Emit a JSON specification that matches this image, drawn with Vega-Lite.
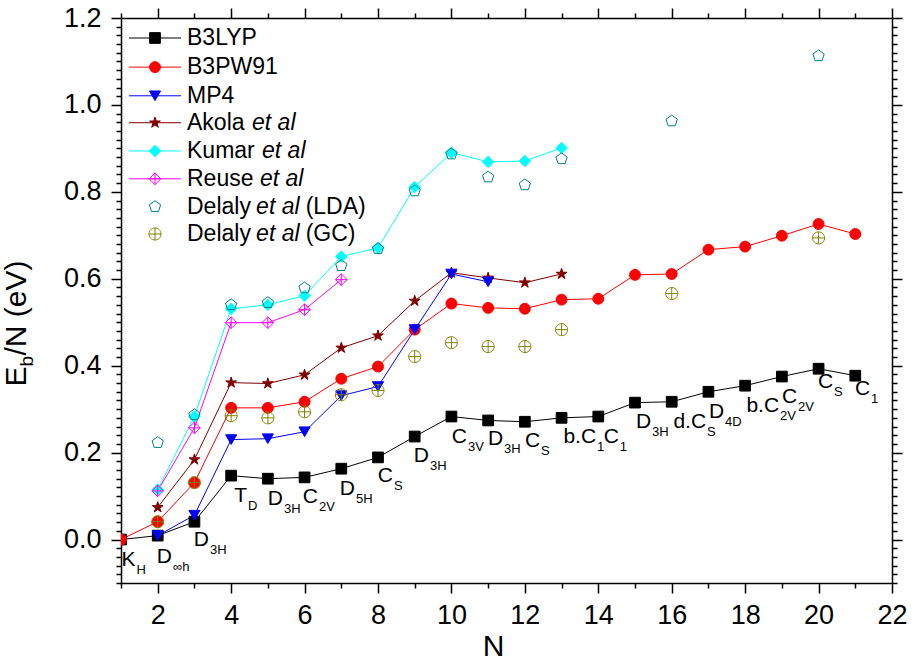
{
  "$schema": "https://vega.github.io/schema/vega-lite/v6.json",
  "autosize": "none",
  "width": 771,
  "height": 565,
  "padding": {"left": 121, "top": 18, "right": 21, "bottom": 77},
  "background": "white",
  "config": {"view": {"stroke": null}, "font": "Liberation Sans"},
  "datasets": {
    "pts": [
      {"series": "B3LYP", "N": 1, "E": 0},
      {"series": "B3LYP", "N": 2, "E": 0.009},
      {"series": "B3LYP", "N": 3, "E": 0.041},
      {"series": "B3LYP", "N": 4, "E": 0.147},
      {"series": "B3LYP", "N": 5, "E": 0.140},
      {"series": "B3LYP", "N": 6, "E": 0.143},
      {"series": "B3LYP", "N": 7, "E": 0.163},
      {"series": "B3LYP", "N": 8, "E": 0.189},
      {"series": "B3LYP", "N": 9, "E": 0.237},
      {"series": "B3LYP", "N": 10, "E": 0.283},
      {"series": "B3LYP", "N": 11, "E": 0.274},
      {"series": "B3LYP", "N": 12, "E": 0.271},
      {"series": "B3LYP", "N": 13, "E": 0.280},
      {"series": "B3LYP", "N": 14, "E": 0.283},
      {"series": "B3LYP", "N": 15, "E": 0.315},
      {"series": "B3LYP", "N": 16, "E": 0.317},
      {"series": "B3LYP", "N": 17, "E": 0.340},
      {"series": "B3LYP", "N": 18, "E": 0.354},
      {"series": "B3LYP", "N": 19, "E": 0.375},
      {"series": "B3LYP", "N": 20, "E": 0.393},
      {"series": "B3LYP", "N": 21, "E": 0.377},
      {"series": "B3PW91", "N": 1, "E": 0},
      {"series": "B3PW91", "N": 2, "E": 0.041},
      {"series": "B3PW91", "N": 3, "E": 0.131},
      {"series": "B3PW91", "N": 4, "E": 0.303},
      {"series": "B3PW91", "N": 5, "E": 0.303},
      {"series": "B3PW91", "N": 6, "E": 0.317},
      {"series": "B3PW91", "N": 7, "E": 0.370},
      {"series": "B3PW91", "N": 8, "E": 0.398},
      {"series": "B3PW91", "N": 9, "E": 0.483},
      {"series": "B3PW91", "N": 10, "E": 0.543},
      {"series": "B3PW91", "N": 11, "E": 0.533},
      {"series": "B3PW91", "N": 12, "E": 0.531},
      {"series": "B3PW91", "N": 13, "E": 0.552},
      {"series": "B3PW91", "N": 14, "E": 0.554},
      {"series": "B3PW91", "N": 15, "E": 0.609},
      {"series": "B3PW91", "N": 16, "E": 0.611},
      {"series": "B3PW91", "N": 17, "E": 0.667},
      {"series": "B3PW91", "N": 18, "E": 0.674},
      {"series": "B3PW91", "N": 19, "E": 0.699},
      {"series": "B3PW91", "N": 20, "E": 0.726},
      {"series": "B3PW91", "N": 21, "E": 0.703},
      {"series": "Akola", "N": 2, "E": 0.074},
      {"series": "Akola", "N": 3, "E": 0.184},
      {"series": "Akola", "N": 4, "E": 0.361},
      {"series": "Akola", "N": 5, "E": 0.359},
      {"series": "Akola", "N": 6, "E": 0.379},
      {"series": "Akola", "N": 7, "E": 0.441},
      {"series": "Akola", "N": 8, "E": 0.469},
      {"series": "Akola", "N": 9, "E": 0.549},
      {"series": "Akola", "N": 10, "E": 0.614},
      {"series": "Akola", "N": 11, "E": 0.602},
      {"series": "Akola", "N": 12, "E": 0.591},
      {"series": "Akola", "N": 13, "E": 0.611},
      {"series": "MP4", "N": 2, "E": 0.009},
      {"series": "MP4", "N": 3, "E": 0.056},
      {"series": "MP4", "N": 4, "E": 0.230},
      {"series": "MP4", "N": 5, "E": 0.232},
      {"series": "MP4", "N": 6, "E": 0.248},
      {"series": "MP4", "N": 7, "E": 0.331},
      {"series": "MP4", "N": 8, "E": 0.352},
      {"series": "MP4", "N": 9, "E": 0.483},
      {"series": "MP4", "N": 10, "E": 0.611},
      {"series": "MP4", "N": 11, "E": 0.593},
      {"series": "Kumar", "N": 2, "E": 0.115},
      {"series": "Kumar", "N": 3, "E": 0.283},
      {"series": "Kumar", "N": 4, "E": 0.531},
      {"series": "Kumar", "N": 5, "E": 0.540},
      {"series": "Kumar", "N": 6, "E": 0.561},
      {"series": "Kumar", "N": 7, "E": 0.651},
      {"series": "Kumar", "N": 8, "E": 0.671},
      {"series": "Kumar", "N": 9, "E": 0.811},
      {"series": "Kumar", "N": 10, "E": 0.890},
      {"series": "Kumar", "N": 11, "E": 0.869},
      {"series": "Kumar", "N": 12, "E": 0.871},
      {"series": "Kumar", "N": 13, "E": 0.901},
      {"series": "Reuse", "N": 2, "E": 0.112},
      {"series": "Reuse", "N": 3, "E": 0.257},
      {"series": "Reuse", "N": 4, "E": 0.499},
      {"series": "Reuse", "N": 5, "E": 0.499},
      {"series": "Reuse", "N": 6, "E": 0.529},
      {"series": "Reuse", "N": 7, "E": 0.598},
      {"series": "Delaly LDA", "N": 2, "E": 0.223},
      {"series": "Delaly LDA", "N": 3, "E": 0.287},
      {"series": "Delaly LDA", "N": 4, "E": 0.540},
      {"series": "Delaly LDA", "N": 5, "E": 0.545},
      {"series": "Delaly LDA", "N": 6, "E": 0.579},
      {"series": "Delaly LDA", "N": 7, "E": 0.630},
      {"series": "Delaly LDA", "N": 8, "E": 0.669},
      {"series": "Delaly LDA", "N": 9, "E": 0.802},
      {"series": "Delaly LDA", "N": 10, "E": 0.887},
      {"series": "Delaly LDA", "N": 11, "E": 0.834},
      {"series": "Delaly LDA", "N": 12, "E": 0.816},
      {"series": "Delaly LDA", "N": 13, "E": 0.876},
      {"series": "Delaly LDA", "N": 16, "E": 0.963},
      {"series": "Delaly LDA", "N": 20, "E": 1.113},
      {"series": "Delaly GC", "N": 2, "E": 0.041},
      {"series": "Delaly GC", "N": 3, "E": 0.131},
      {"series": "Delaly GC", "N": 4, "E": 0.285},
      {"series": "Delaly GC", "N": 5, "E": 0.280},
      {"series": "Delaly GC", "N": 6, "E": 0.294},
      {"series": "Delaly GC", "N": 7, "E": 0.333},
      {"series": "Delaly GC", "N": 8, "E": 0.343},
      {"series": "Delaly GC", "N": 9, "E": 0.421},
      {"series": "Delaly GC", "N": 10, "E": 0.453},
      {"series": "Delaly GC", "N": 11, "E": 0.444},
      {"series": "Delaly GC", "N": 12, "E": 0.444},
      {"series": "Delaly GC", "N": 13, "E": 0.483},
      {"series": "Delaly GC", "N": 16, "E": 0.566},
      {"series": "Delaly GC", "N": 20, "E": 0.694}
    ],
    "leg": [
      {"series": "B3LYP", "E": 1.154},
      {"series": "B3PW91", "E": 1.087},
      {"series": "MP4", "E": 1.021},
      {"series": "Akola", "E": 0.959},
      {"series": "Kumar", "E": 0.894},
      {"series": "Reuse", "E": 0.830},
      {"series": "Delaly LDA", "E": 0.766},
      {"series": "Delaly GC", "E": 0.703}
    ],
    "legtxt": [
      {"text": "B3LYP", "N": 2.798, "E": 1.154, "italic": false},
      {"text": "B3PW91", "N": 2.798, "E": 1.087, "italic": false},
      {"text": "MP4", "N": 2.798, "E": 1.021, "italic": false},
      {"text": "Akola", "N": 2.798, "E": 0.959, "italic": false},
      {"text": "et al", "N": 4.569, "E": 0.959, "italic": true},
      {"text": "Kumar", "N": 2.798, "E": 0.894, "italic": false},
      {"text": "et al", "N": 4.841, "E": 0.894, "italic": true},
      {"text": "Reuse", "N": 2.798, "E": 0.830, "italic": false},
      {"text": "et al", "N": 4.786, "E": 0.830, "italic": true},
      {"text": "Delaly", "N": 2.798, "E": 0.766, "italic": false},
      {"text": "et al", "N": 4.68, "E": 0.766, "italic": true},
      {"text": "(LDA)", "N": 6.03, "E": 0.766, "italic": false},
      {"text": "Delaly", "N": 2.798, "E": 0.703, "italic": false},
      {"text": "et al", "N": 4.68, "E": 0.703, "italic": true},
      {"text": "(GC)", "N": 6.03, "E": 0.703, "italic": false}
    ],
    "sym": [
      {"N": 1.395, "E": -0.062, "main": "K", "sub": "H"},
      {"N": 2.389, "E": -0.053, "main": "D", "sub": "∞h"},
      {"N": 3.397, "E": -0.016, "main": "D", "sub": "3H"},
      {"N": 4.432, "E": 0.087, "main": "T", "sub": "D"},
      {"N": 5.413, "E": 0.080, "main": "D", "sub": "3H"},
      {"N": 6.366, "E": 0.085, "main": "C", "sub": "2V"},
      {"N": 7.374, "E": 0.103, "main": "D", "sub": "5H"},
      {"N": 8.409, "E": 0.133, "main": "C", "sub": "S"},
      {"N": 9.39, "E": 0.179, "main": "D", "sub": "3H"},
      {"N": 10.425, "E": 0.223, "main": "C", "sub": "3V"},
      {"N": 11.406, "E": 0.218, "main": "D", "sub": "3H"},
      {"N": 12.414, "E": 0.214, "main": "C", "sub": "S"},
      {"N": 13.94, "E": 0.223, "main": "b.C", "sub": "1"},
      {"N": 14.56, "E": 0.223, "main": "C", "sub": "1"},
      {"N": 15.438, "E": 0.257, "main": "D", "sub": "3H"},
      {"N": 16.936, "E": 0.257, "main": "d.C", "sub": "S"},
      {"N": 17.426, "E": 0.280, "main": "D", "sub": "4D"},
      {"N": 18.924, "E": 0.294, "main": "b.C", "sub": "2V"},
      {"N": 19.415, "E": 0.315, "main": "C", "sub": "2V"},
      {"N": 20.395, "E": 0.349, "main": "C", "sub": "S"},
      {"N": 21.403, "E": 0.333, "main": "C", "sub": "1"}
    ]
  },
  "layer": [
    {
      "layer": [
        {
          "data": {"name": "pts"},
          "transform": [{"filter": {"field": "series", "oneOf": ["B3LYP", "B3PW91", "MP4", "Akola", "Kumar", "Reuse"]}}],
          "mark": {"type": "line", "strokeWidth": 1, "clip": true},
          "encoding": {
            "x": {
              "field": "N", "type": "quantitative",
              "scale": {"domain": [1, 22], "nice": false, "zero": false},
              "axis": {
                "orient": "bottom",
                "values": [2, 4, 6, 8, 10, 12, 14, 16, 18, 20, 22],
                "tickSize": 10,
                "labelFontSize": 27, "labelColor": "black", "labelPadding": 9,
                "labelFlush": false, "labelOverlap": false,
                "domainColor": "black", "domainWidth": 1.5,
                "tickColor": "black", "tickWidth": 1.5,
                "grid": false,
                "title": "N", "titleFontSize": 30, "titleFontWeight": "normal",
                "titleColor": "black", "titlePadding": 3, "titleX": 372
              }
            },
            "y": {
              "field": "E", "type": "quantitative",
              "scale": {"domain": [-0.1, 1.2], "nice": false, "zero": false},
              "axis": {
                "orient": "left",
                "values": [0, 0.2, 0.4, 0.6, 0.8, 1.0, 1.2],
                "format": ".1f",
                "tickSize": 10,
                "labelFontSize": 27, "labelColor": "black", "labelPadding": 10,
                "labelFlush": false, "labelOverlap": false,
                "domainColor": "black", "domainWidth": 1.5,
                "tickColor": "black", "tickWidth": 1.5,
                "grid": false,
                "title": null
              }
            },
            "stroke": {
              "field": "series", "type": "nominal", "legend": null,
              "scale": {
                "domain": ["B3LYP", "B3PW91", "MP4", "Akola", "Kumar", "Reuse", "Delaly LDA", "Delaly GC"],
                "range": ["#000000", "#ff0000", "#0000ff", "#800000", "#00ffff", "#ff00ff", "#008080", "#808000"]
              }
            },
            "order": {"field": "N", "type": "quantitative"}
          }
        },
        {
          "data": {"name": "pts"},
          "mark": {"type": "point", "strokeWidth": 1, "opacity": 1, "clip": true},
          "encoding": {
            "x": {"field": "N", "type": "quantitative", "scale": {"domain": [1, 22], "nice": false, "zero": false}},
            "y": {"field": "E", "type": "quantitative", "scale": {"domain": [-0.1, 1.2], "nice": false, "zero": false}},
            "shape": {
              "field": "series", "type": "nominal", "legend": null,
              "scale": {
                "domain": ["B3LYP", "B3PW91", "MP4", "Akola", "Kumar", "Reuse", "Delaly LDA", "Delaly GC"],
                "range": [
                  "square", "circle", "triangle-down",
                  "M0,-1L0.225,-0.309L0.951,-0.309L0.363,0.118L0.588,0.809L0,0.382L-0.588,0.809L-0.363,0.118L-0.951,-0.309L-0.225,-0.309Z",
                  "diamond",
                  "M0,-1L1,0L0,1L-1,0Z M0,-1L0,1 M-1,0L1,0",
                  "M0,-1L0.951,-0.309L0.588,0.809L-0.588,0.809L-0.951,-0.309Z",
                  "M-1,0A1,1,0,1,1,1,0A1,1,0,1,1,-1,0Z M-1,0L1,0 M0,-1L0,1"
                ]
              }
            },
            "fill": {
              "field": "series", "type": "nominal", "legend": null,
              "scale": {
                "domain": ["B3LYP", "B3PW91", "MP4", "Akola", "Kumar", "Reuse", "Delaly LDA", "Delaly GC"],
                "range": ["#000000", "#ff0000", "#0000ff", "#800000", "#00ffff", "transparent", "transparent", "transparent"]
              }
            },
            "stroke": {
              "field": "series", "type": "nominal", "legend": null,
              "scale": {
                "domain": ["B3LYP", "B3PW91", "MP4", "Akola", "Kumar", "Reuse", "Delaly LDA", "Delaly GC"],
                "range": ["#000000", "#ff0000", "#0000ff", "#800000", "#00ffff", "#ff00ff", "#008080", "#808000"]
              }
            },
            "size": {
              "field": "series", "type": "nominal", "legend": null,
              "scale": {
                "domain": ["B3LYP", "B3PW91", "MP4", "Akola", "Kumar", "Reuse", "Delaly LDA", "Delaly GC"],
                "range": [115, 145, 190, 230, 240, 240, 230, 175]
              }
            }
          }
        },
        {
          "data": {"name": "leg"},
          "transform": [{"filter": {"field": "series", "oneOf": ["B3LYP", "B3PW91", "MP4", "Akola", "Kumar", "Reuse"]}}],
          "mark": {"type": "rule", "strokeWidth": 1},
          "encoding": {
            "x": {"datum": 1.218, "type": "quantitative", "scale": {"domain": [1, 22], "nice": false, "zero": false}},
            "x2": {"datum": 2.634},
            "y": {"field": "E", "type": "quantitative", "scale": {"domain": [-0.1, 1.2], "nice": false, "zero": false}},
            "stroke": {
              "field": "series", "type": "nominal", "legend": null,
              "scale": {
                "domain": ["B3LYP", "B3PW91", "MP4", "Akola", "Kumar", "Reuse", "Delaly LDA", "Delaly GC"],
                "range": ["#000000", "#ff0000", "#0000ff", "#800000", "#00ffff", "#ff00ff", "#008080", "#808000"]
              }
            }
          }
        },
        {
          "data": {"name": "leg"},
          "mark": {"type": "point", "strokeWidth": 1, "opacity": 1},
          "encoding": {
            "x": {"datum": 1.926, "type": "quantitative", "scale": {"domain": [1, 22], "nice": false, "zero": false}},
            "y": {"field": "E", "type": "quantitative", "scale": {"domain": [-0.1, 1.2], "nice": false, "zero": false}},
            "shape": {
              "field": "series", "type": "nominal", "legend": null,
              "scale": {
                "domain": ["B3LYP", "B3PW91", "MP4", "Akola", "Kumar", "Reuse", "Delaly LDA", "Delaly GC"],
                "range": [
                  "square", "circle", "triangle-down",
                  "M0,-1L0.225,-0.309L0.951,-0.309L0.363,0.118L0.588,0.809L0,0.382L-0.588,0.809L-0.363,0.118L-0.951,-0.309L-0.225,-0.309Z",
                  "diamond",
                  "M0,-1L1,0L0,1L-1,0Z M0,-1L0,1 M-1,0L1,0",
                  "M0,-1L0.951,-0.309L0.588,0.809L-0.588,0.809L-0.951,-0.309Z",
                  "M-1,0A1,1,0,1,1,1,0A1,1,0,1,1,-1,0Z M-1,0L1,0 M0,-1L0,1"
                ]
              }
            },
            "fill": {
              "field": "series", "type": "nominal", "legend": null,
              "scale": {
                "domain": ["B3LYP", "B3PW91", "MP4", "Akola", "Kumar", "Reuse", "Delaly LDA", "Delaly GC"],
                "range": ["#000000", "#ff0000", "#0000ff", "#800000", "#00ffff", "transparent", "transparent", "transparent"]
              }
            },
            "stroke": {
              "field": "series", "type": "nominal", "legend": null,
              "scale": {
                "domain": ["B3LYP", "B3PW91", "MP4", "Akola", "Kumar", "Reuse", "Delaly LDA", "Delaly GC"],
                "range": ["#000000", "#ff0000", "#0000ff", "#800000", "#00ffff", "#ff00ff", "#008080", "#808000"]
              }
            },
            "size": {
              "field": "series", "type": "nominal", "legend": null,
              "scale": {
                "domain": ["B3LYP", "B3PW91", "MP4", "Akola", "Kumar", "Reuse", "Delaly LDA", "Delaly GC"],
                "range": [115, 145, 190, 230, 240, 240, 230, 175]
              }
            }
          }
        },
        {
          "data": {"name": "legtxt"},
          "transform": [{"filter": "!datum.italic"}],
          "mark": {"type": "text", "align": "left", "baseline": "middle", "fontSize": 23, "color": "black"},
          "encoding": {
            "x": {"field": "N", "type": "quantitative", "scale": {"domain": [1, 22], "nice": false, "zero": false}},
            "y": {"field": "E", "type": "quantitative", "scale": {"domain": [-0.1, 1.2], "nice": false, "zero": false}},
            "text": {"field": "text"}
          }
        },
        {
          "data": {"name": "legtxt"},
          "transform": [{"filter": "datum.italic"}],
          "mark": {"type": "text", "align": "left", "baseline": "middle", "fontSize": 23, "fontStyle": "italic", "color": "black"},
          "encoding": {
            "x": {"field": "N", "type": "quantitative", "scale": {"domain": [1, 22], "nice": false, "zero": false}},
            "y": {"field": "E", "type": "quantitative", "scale": {"domain": [-0.1, 1.2], "nice": false, "zero": false}},
            "text": {"field": "text"}
          }
        },
        {
          "data": {"name": "sym"},
          "mark": {"type": "text", "align": "right", "baseline": "alphabetic", "fontSize": 21, "color": "black"},
          "encoding": {
            "x": {"field": "N", "type": "quantitative", "scale": {"domain": [1, 22], "nice": false, "zero": false}},
            "y": {"field": "E", "type": "quantitative", "scale": {"domain": [-0.1, 1.2], "nice": false, "zero": false}},
            "text": {"field": "main"}
          }
        },
        {
          "data": {"name": "sym"},
          "mark": {"type": "text", "align": "left", "baseline": "alphabetic", "fontSize": 13, "dx": 1, "dy": 8, "color": "black"},
          "encoding": {
            "x": {"field": "N", "type": "quantitative", "scale": {"domain": [1, 22], "nice": false, "zero": false}},
            "y": {"field": "E", "type": "quantitative", "scale": {"domain": [-0.1, 1.2], "nice": false, "zero": false}},
            "text": {"field": "sub"}
          }
        },
        {
          "data": {"values": [{}]},
          "mark": {"type": "text", "text": "E", "angle": 270, "align": "right", "baseline": "alphabetic", "fontSize": 30, "color": "black"},
          "encoding": {
            "x": {"datum": -1.601, "type": "quantitative", "scale": {"domain": [1, 22], "nice": false, "zero": false}},
            "y": {"datum": 0.398, "type": "quantitative", "scale": {"domain": [-0.1, 1.2], "nice": false, "zero": false}}
          }
        },
        {
          "data": {"values": [{}]},
          "mark": {"type": "text", "text": "b", "angle": 270, "align": "left", "baseline": "alphabetic", "fontSize": 19, "dy": 7, "color": "black"},
          "encoding": {
            "x": {"datum": -1.601, "type": "quantitative", "scale": {"domain": [1, 22], "nice": false, "zero": false}},
            "y": {"datum": 0.398, "type": "quantitative", "scale": {"domain": [-0.1, 1.2], "nice": false, "zero": false}}
          }
        },
        {
          "data": {"values": [{}]},
          "mark": {"type": "text", "text": "/N (eV)", "angle": 270, "align": "left", "baseline": "alphabetic", "fontSize": 30, "dx": 11, "color": "black"},
          "encoding": {
            "x": {"datum": -1.601, "type": "quantitative", "scale": {"domain": [1, 22], "nice": false, "zero": false}},
            "y": {"datum": 0.398, "type": "quantitative", "scale": {"domain": [-0.1, 1.2], "nice": false, "zero": false}}
          }
        }
      ]
    },
    {
      "data": {"name": "pts"},
      "mark": {"type": "point", "opacity": 0},
      "encoding": {
        "x": {
          "field": "N", "type": "quantitative",
          "scale": {"domain": [1, 22], "nice": false, "zero": false},
          "axis": {
            "orient": "top",
            "values": [2, 4, 6, 8, 10, 12, 14, 16, 18, 20, 22],
            "tickSize": 10, "labels": false,
            "domainColor": "black", "domainWidth": 1.5,
            "tickColor": "black", "tickWidth": 1.5,
            "grid": false, "title": null
          }
        },
        "y": {
          "field": "E", "type": "quantitative",
          "scale": {"domain": [-0.1, 1.2], "nice": false, "zero": false},
          "axis": {
            "orient": "right",
            "values": [0, 0.2, 0.4, 0.6, 0.8, 1.0, 1.2],
            "tickSize": 10, "labels": false,
            "domainColor": "black", "domainWidth": 1.5,
            "tickColor": "black", "tickWidth": 1.5,
            "grid": false, "title": null
          }
        }
      }
    },
    {
      "data": {"name": "pts"},
      "mark": {"type": "point", "opacity": 0},
      "encoding": {
        "x": {
          "field": "N", "type": "quantitative",
          "scale": {"domain": [1, 22], "nice": false, "zero": false},
          "axis": {
            "orient": "bottom",
            "values": [1, 3, 5, 7, 9, 11, 13, 15, 17, 19, 21],
            "tickSize": 5, "labels": false, "domain": false,
            "tickColor": "black", "tickWidth": 1.5,
            "grid": false, "title": null
          }
        },
        "y": {
          "field": "E", "type": "quantitative",
          "scale": {"domain": [-0.1, 1.2], "nice": false, "zero": false},
          "axis": {
            "orient": "left",
            "values": [-0.1, -0.08, -0.06, -0.04, -0.02, 0.02, 0.04, 0.06, 0.08, 0.1, 0.12, 0.14, 0.16, 0.18, 0.22, 0.24, 0.26, 0.28, 0.3, 0.32, 0.34, 0.36, 0.38, 0.42, 0.44, 0.46, 0.48, 0.5, 0.52, 0.54, 0.56, 0.58, 0.62, 0.64, 0.66, 0.68, 0.7, 0.72, 0.74, 0.76, 0.78, 0.82, 0.84, 0.86, 0.88, 0.9, 0.92, 0.94, 0.96, 0.98, 1.02, 1.04, 1.06, 1.08, 1.1, 1.12, 1.14, 1.16, 1.18],
            "tickSize": 5, "labels": false, "domain": false,
            "tickColor": "black", "tickWidth": 1.5,
            "grid": false, "title": null
          }
        }
      }
    },
    {
      "data": {"name": "pts"},
      "mark": {"type": "point", "opacity": 0},
      "encoding": {
        "x": {
          "field": "N", "type": "quantitative",
          "scale": {"domain": [1, 22], "nice": false, "zero": false},
          "axis": {
            "orient": "top",
            "values": [1, 3, 5, 7, 9, 11, 13, 15, 17, 19, 21],
            "tickSize": 5, "labels": false, "domain": false,
            "tickColor": "black", "tickWidth": 1.5,
            "grid": false, "title": null
          }
        },
        "y": {
          "field": "E", "type": "quantitative",
          "scale": {"domain": [-0.1, 1.2], "nice": false, "zero": false},
          "axis": {
            "orient": "right",
            "values": [-0.1, -0.08, -0.06, -0.04, -0.02, 0.02, 0.04, 0.06, 0.08, 0.1, 0.12, 0.14, 0.16, 0.18, 0.22, 0.24, 0.26, 0.28, 0.3, 0.32, 0.34, 0.36, 0.38, 0.42, 0.44, 0.46, 0.48, 0.5, 0.52, 0.54, 0.56, 0.58, 0.62, 0.64, 0.66, 0.68, 0.7, 0.72, 0.74, 0.76, 0.78, 0.82, 0.84, 0.86, 0.88, 0.9, 0.92, 0.94, 0.96, 0.98, 1.02, 1.04, 1.06, 1.08, 1.1, 1.12, 1.14, 1.16, 1.18],
            "tickSize": 5, "labels": false, "domain": false,
            "tickColor": "black", "tickWidth": 1.5,
            "grid": false, "title": null
          }
        }
      }
    }
  ],
  "resolve": {"axis": {"x": "independent", "y": "independent"}}
}
